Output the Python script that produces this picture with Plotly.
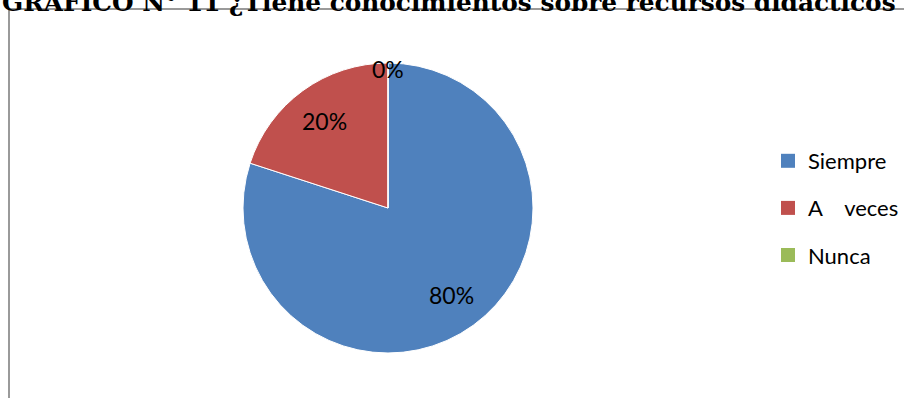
import math
import plotly.graph_objects as go

# Chart data
categorias = ["Siempre", "A\u00a0\u00a0\u00a0\u00a0veces", "Nunca"]
valores = [80, 20, 0]
colores = ["#4F81BD", "#C0504D", "#9BBB59"]
titulo = "GRAFICO N° 11 ¿Tiene conocimientos sobre recursos didácticos"

W, H = 904, 398
cx, cy, r = 388, 208, 145  # pie centre / radius in pixels

fig = go.Figure()
fig.add_trace(go.Pie(
    labels=categorias,
    values=valores,
    sort=False,
    direction="clockwise",
    rotation=0,
    marker=dict(colors=colores, line=dict(color="white", width=1)),
    textinfo="none",
    showlegend=False,
    domain=dict(x=[(cx - r) / W, (cx + r) / W],
                y=[1 - (cy + r) / H, 1 - (cy - r) / H]),
))

# Percentage labels placed along each slice's mid-angle
total = sum(valores)
annotations = []
acum = 0.0
for v in valores:
    frac = v / total
    mid = (acum + frac / 2) * 2 * math.pi  # clockwise from 12 o'clock
    rr = (0.74 if v > 0 else 0.96) * r
    px = cx + rr * math.sin(mid)
    py = cy - rr * math.cos(mid)
    annotations.append(dict(
        text=f"{frac:.0%}", xref="paper", yref="paper",
        x=px / W, y=1 - py / H, xanchor="center", yanchor="middle",
        showarrow=False, font=dict(family="Lato", size=23, color="black"),
    ))
    acum += frac

# Legend entries (square swatches)
for name, col in zip(categorias, colores):
    fig.add_trace(go.Scatter(
        x=[None], y=[None], mode="markers",
        marker=dict(symbol="square", size=14, color=col),
        name=name, legendgroup=name, showlegend=True, hoverinfo="skip",
    ))

annotations.append(dict(
    text="<b>" + titulo + "</b>", xref="paper", yref="paper",
    x=0, y=1, xanchor="left", yanchor="top", yshift=14,
    showarrow=False,
    font=dict(family="DejaVu Serif", size=24.8, color="black"),
))

fig.update_layout(
    width=W, height=H,
    margin=dict(l=0, r=0, t=0, b=0),
    paper_bgcolor="white", plot_bgcolor="white",
    xaxis=dict(visible=False), yaxis=dict(visible=False),
    showlegend=True,
    legend=dict(x=768 / W, y=1 - 140 / H, xanchor="left", yanchor="top",
                traceorder="grouped", tracegroupgap=15.5,
                font=dict(family="Lato", size=22, color="black"),
                bgcolor="rgba(0,0,0,0)"),
    shapes=[dict(type="rect", xref="paper", yref="paper",
                 x0=9 / W, x1=1.05, y0=-0.05, y1=1 - 9 / H,
                 line=dict(color="#9a9a9a", width=2), layer="above")],
    annotations=annotations,
)

fig.write_html("out.html")
